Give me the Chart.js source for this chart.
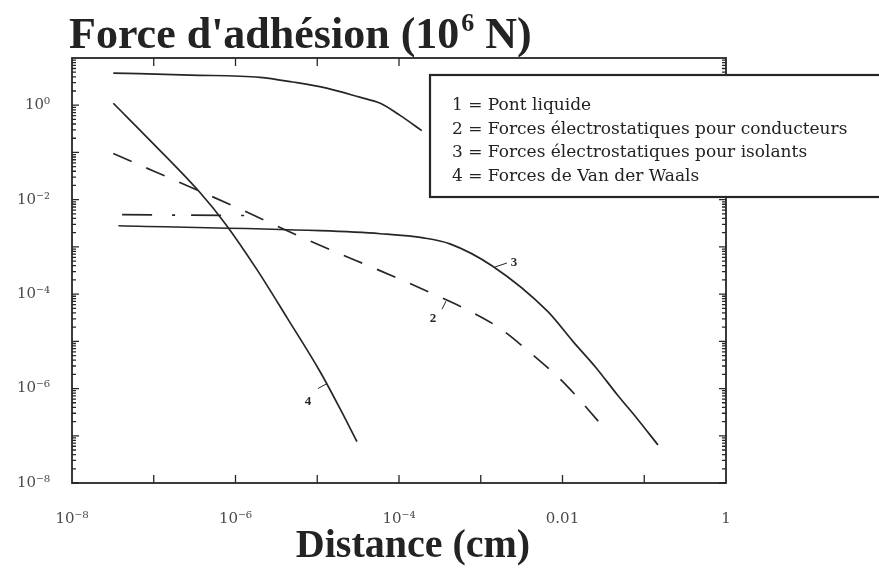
<!DOCTYPE html>
<html>
<head>
<meta charset="utf-8">
<script src="https://cdn.jsdelivr.net/npm/chart.js@4/dist/chart.umd.min.js"></script>
<style>
  html, body { margin: 0; padding: 0; background: #ffffff; }
  #wrap { width: 879px; height: 583px; }
</style>
</head>
<body>
<div id="wrap"><canvas id="c" width="879" height="583"></canvas></div>
<script>
// Distance (cm) and adhesion force (10^6 N) for each mechanism
const pontDist   = [3.2e-8, 2.8e-7, 2.0e-6, 5.0e-6, 1.3e-5, 3.3e-5, 5.9e-5, 1.03e-4, 1.9e-4];
const pontForce  = [4.8, 4.35, 3.9, 3.1, 2.3, 1.48, 1.1, 0.61, 0.29];

const condDist   = [3.2e-8, 1.04e-6, 6.7e-6, 8.9e-5, 2.5e-4, 6.6e-4, 1.7e-3, 4.0e-3, 1.1e-2, 3.0e-2];
const condForce  = [9.5e-2, 6.8e-3, 1.55e-3, 2.3e-4, 1.05e-4, 4.8e-5, 1.9e-5, 5.8e-6, 1.2e-6, 1.7e-7];

const isolDist   = [3.7e-8, 1.08e-5, 5.9e-5, 2.0e-4, 4.2e-4, 1.4e-3, 6.5e-3, 1.34e-2, 2.6e-2, 4.65e-2, 8.2e-2, 1.47e-1];
const isolForce  = [2.8e-3, 2.2e-3, 1.9e-3, 1.55e-3, 1.16e-3, 3.9e-4, 4.4e-5, 1.0e-5, 2.7e-6, 7.5e-7, 2.3e-7, 6.4e-8];

const vdwDist    = [3.2e-8, 9.0e-8, 3.7e-7, 7.5e-7, 1.83e-6, 4.3e-6, 1.08e-5, 1.9e-5, 3.06e-5];
const vdwForce   = [1.1, 0.18, 1.4e-2, 3.1e-3, 3.3e-4, 3.1e-5, 2.3e-6, 3.75e-7, 7.5e-8];

// unlabelled dash-dot branch
const branchDist  = [4.1e-8, 1.88e-6];
const branchForce = [4.8e-3, 4.6e-3];

// axis ticks and their printed labels
const xTickValues = [1e-8, 1e-6, 1e-4, 1e-2, 1];
const xTickLabels = ['10⁻⁸', '10⁻⁶', '10⁻⁴', '0.01', '1'];
const yTickValues = [1e-8, 1e-6, 1e-4, 1e-2, 1];
const yTickLabels = ['10⁻⁸', '10⁻⁶', '10⁻⁴', '10⁻²', '10⁰'];

// texts
const titleMain = "Force d'adhésion (10";
const titleExp = '6';
const titleUnit = ' N)';
const xTitle = 'Distance (cm)';
const keyLines = [
  '1 = Pont liquide',
  '2 = Forces électrostatiques pour conducteurs',
  '3 = Forces électrostatiques pour isolants',
  '4 = Forces de Van der Waals'
];

function pts(xs, ys) { return xs.map((v, i) => ({ x: v, y: ys[i] })); }
function labelFor(values, labels, v) {
  let best = 0, d = Infinity;
  values.forEach((t, i) => { const e = Math.abs(Math.log10(t) - Math.log10(v)); if (e < d) { d = e; best = i; } });
  return d < 1e-6 ? labels[best] : '';
}

const INK = '#262626';

// curve number tags: anchor on the curve (data units), leader end and text offset (px)
const curveTags = [
  { text: '3', x: 1.49e-3, y: 3.75e-4, lx: 12, ly: -4, tx: 19, ty: -4 },
  { text: '2', x: 3.76e-4, y: 7.1e-5,  lx: -4, ly: 8,  tx: -13, ty: 18 },
  { text: '4', x: 1.32e-5, y: 1.28e-6, lx: -9, ly: 5,  tx: -19, ty: 18 }
];

const framePlugin = {
  id: 'frame',
  afterDatasetsDraw(chart) {
    const { ctx, chartArea: a, scales: { x, y } } = chart;
    ctx.save();
    ctx.strokeStyle = INK;
    ctx.lineWidth = 1.8;
    ctx.strokeRect(a.left, a.top, a.right - a.left, a.bottom - a.top);
    ctx.lineWidth = 1.3;
    ctx.beginPath();
    for (let e = -7; e <= -1; e++) {
      const px = x.getPixelForValue(Math.pow(10, e));
      ctx.moveTo(px, a.bottom); ctx.lineTo(px, a.bottom - 8);
    }
    for (let e = -7; e <= -4; e++) {
      const px = x.getPixelForValue(Math.pow(10, e));
      ctx.moveTo(px, a.top); ctx.lineTo(px, a.top + 8);
    }
    for (let e = -8; e <= 0; e++) {
      for (let m = 1; m <= 9; m++) {
        const v = m * Math.pow(10, e);
        const py = y.getPixelForValue(v);
        const len = m === 1 ? 7 : 4;
        ctx.moveTo(a.left, py); ctx.lineTo(a.left + len, py);
        ctx.moveTo(a.right, py); ctx.lineTo(a.right - len, py);
      }
    }
    ctx.stroke();
    ctx.restore();
  },
  afterDraw(chart) {
    const { ctx, scales: { x, y } } = chart;
    ctx.save();
    // curve number tags
    ctx.strokeStyle = INK; ctx.fillStyle = INK; ctx.lineWidth = 1;
    ctx.font = 'bold 13px "Liberation Serif"';
    ctx.textAlign = 'center'; ctx.textBaseline = 'middle';
    curveTags.forEach(t => {
      const px = x.getPixelForValue(t.x), py = y.getPixelForValue(t.y);
      ctx.beginPath(); ctx.moveTo(px, py); ctx.lineTo(px + t.lx, py + t.ly); ctx.stroke();
      ctx.fillText(t.text, px + t.tx, py + t.ty);
    });

    // key box
    ctx.fillStyle = '#ffffff';
    ctx.fillRect(430, 75, 460, 122);
    ctx.strokeStyle = INK; ctx.lineWidth = 2.2;
    ctx.strokeRect(430, 75, 460, 122);
    ctx.fillStyle = '#222';
    ctx.font = '17px "DejaVu Serif"';
    ctx.textAlign = 'left'; ctx.textBaseline = 'alphabetic';
    keyLines.forEach((s, i) => ctx.fillText(s, 452, 110 + i * 23.5));

    // chart title
    ctx.font = 'bold 44px "Liberation Serif"';
    ctx.fillStyle = '#232323';
    let tx = 69;
    ctx.fillText(titleMain, tx, 48);
    tx += ctx.measureText(titleMain).width + 2;
    ctx.font = 'bold 26px "Liberation Serif"';
    ctx.fillText(titleExp, tx, 31);
    tx += ctx.measureText(titleExp).width;
    ctx.font = 'bold 44px "Liberation Serif"';
    ctx.fillText(titleUnit, tx, 48);

    // x axis title
    ctx.font = 'bold 40px "Liberation Serif"';
    ctx.textAlign = 'center';
    ctx.fillText(xTitle, 413, 557);
    ctx.restore();
  }
};

const lineBase = { borderColor: INK, borderWidth: 1.7, pointRadius: 0, fill: false, cubicInterpolationMode: 'monotone' };

new Chart(document.getElementById('c'), {
  type: 'line',
  data: {
    datasets: [
      Object.assign({ label: '1', data: pts(pontDist, pontForce) }, lineBase),
      Object.assign({ label: '2', data: pts(condDist, condForce), borderDash: [20, 16] }, lineBase),
      Object.assign({ label: '3', data: pts(isolDist, isolForce) }, lineBase),
      Object.assign({ label: '4', data: pts(vdwDist, vdwForce) }, lineBase),
      Object.assign({ label: '', data: pts(branchDist, branchForce), borderDash: [30, 20, 3, 16] }, lineBase)
    ]
  },
  options: {
    responsive: false,
    animation: false,
    events: [],
    layout: { padding: { top: 58, right: 153, left: 0, bottom: 0 } },
    plugins: { legend: { display: false }, tooltip: { enabled: false }, title: { display: false } },
    scales: {
      x: {
        type: 'logarithmic', min: 1e-8, max: 1, position: 'bottom',
        grid: { display: false, drawTicks: false }, border: { display: false },
        afterBuildTicks: s => { s.ticks = xTickValues.map(v => ({ value: v })); },
        afterFit: s => { s.height = 100; },
        ticks: {
          autoSkip: false, maxRotation: 0, padding: 27, color: '#4a4a4a',
          font: { family: '"DejaVu Serif"', size: 15 },
          callback: v => labelFor(xTickValues, xTickLabels, v)
        }
      },
      y: {
        type: 'logarithmic', min: 1e-8, max: 10, position: 'left',
        grid: { display: false, drawTicks: false }, border: { display: false },
        afterBuildTicks: s => { s.ticks = yTickValues.map(v => ({ value: v })); },
        afterFit: s => { s.width = 72; },
        ticks: {
          autoSkip: false, padding: 22, color: '#4a4a4a',
          font: { family: '"DejaVu Serif"', size: 15 },
          callback: v => labelFor(yTickValues, yTickLabels, v)
        }
      }
    }
  },
  plugins: [framePlugin]
});
</script>
</body>
</html>
